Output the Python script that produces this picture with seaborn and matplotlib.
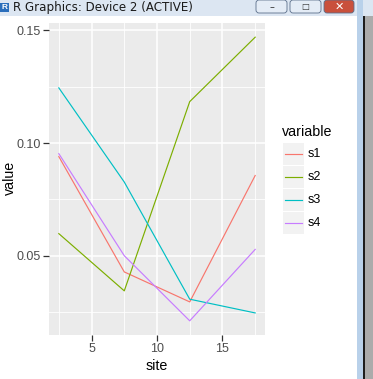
import numpy as np
import pandas as pd
import matplotlib
matplotlib.use("Agg")
import matplotlib.pyplot as plt
import seaborn as sns
from matplotlib.patches import Rectangle, FancyBboxPatch
from matplotlib.lines import Line2D
from matplotlib.ticker import MultipleLocator

# ---- data ----
site = [2.5, 7.5, 12.5, 17.5]
s1 = [0.094, 0.0428, 0.0295, 0.0856]
s2 = [0.0598, 0.0344, 0.1184, 0.147]
s3 = [0.1245, 0.0827, 0.0307, 0.0246]
s4 = [0.0953, 0.0500, 0.0211, 0.0528]
series_names = ["s1", "s2", "s3", "s4"]
colors = ["#F8766D", "#7CAE00", "#00BFC4", "#C77CFF"]
x_ticks = [5, 10, 15]
y_ticks = [0.05, 0.10, 0.15]
y_tick_labels = ["0.05", "0.10", "0.15"]
window_title = "R Graphics: Device 2 (ACTIVE)"

df = pd.DataFrame({"site": site, "s1": s1, "s2": s2, "s3": s3, "s4": s4})
long = df.melt(id_vars="site", var_name="variable", value_name="value")

plt.rcParams["font.family"] = ["Liberation Sans", "DejaVu Sans"]

W, H = 373, 379
fig = plt.figure(figsize=(W / 100, H / 100), dpi=100)
fig.patch.set_facecolor("white")

def fx(x):
    return x / W

def fy(y):
    return 1 - y / H

# ---- window chrome ----
fig.add_artist(Rectangle((0, fy(16)), 1, 16 / H, transform=fig.transFigure,
                         facecolor="#DCE6F2", edgecolor="none", zorder=0))
fig.add_artist(Rectangle((fx(357), 0), 6 / W, 1, transform=fig.transFigure,
                         facecolor="#B9D1EA", edgecolor="none", zorder=0))
fig.add_artist(Rectangle((fx(363), 0), 1.5 / W, fy(16), transform=fig.transFigure,
                         facecolor="#1E1E1E", edgecolor="none", zorder=0))
fig.add_artist(Rectangle((fx(364.5), 0), 9 / W, fy(16), transform=fig.transFigure,
                         facecolor="#ABABAB", edgecolor="none", zorder=0))
for (x0, x1, fc) in [(256, 287, "#E4ECF6"), (290, 321, "#E4ECF6"), (324, 354, "#C9503C")]:
    fig.add_artist(FancyBboxPatch((fx(x0), fy(13)), (x1 - x0) / W, 13 / H,
                                  boxstyle="round,pad=0,rounding_size=0.008",
                                  transform=fig.transFigure, facecolor=fc,
                                  edgecolor="#5A6E8A", linewidth=0.6, zorder=1))
fig.text(fx(271.5), fy(7), "\u2013", ha="center", va="center", fontsize=7, color="#333333",
         family="DejaVu Sans")
fig.text(fx(305.5), fy(7), "\u25a1", ha="center", va="center", fontsize=6, color="#333333",
         family="DejaVu Sans")
fig.text(fx(339), fy(7), "\u2715", ha="center", va="center", fontsize=8,
         color="white", fontweight="bold", family="DejaVu Sans")
fig.add_artist(Rectangle((0, fy(12)), 9 / W, 9 / H, transform=fig.transFigure,
                         facecolor="#2A6EBB", edgecolor="none", zorder=1))
fig.text(fx(4.5), fy(7.5), "R", ha="center", va="center", fontsize=6,
         color="white", fontweight="bold")
fig.text(fx(13), fy(7.5), window_title, ha="left", va="center", fontsize=8.6,
         color="#1A1A1A", family="DejaVu Sans")

# ---- plot panel ----
ax = fig.add_axes([fx(49), fy(335), (265 - 49) / W, (335 - 23) / H])
ax.set_facecolor("#EBEBEB")
sns.lineplot(data=long, x="site", y="value", hue="variable",
             palette=dict(zip(series_names, colors)), linewidth=0.85,
             legend=False, ax=ax, estimator=None, sort=False)

xmin, xmax = min(site), max(site)
ymin = min(min(s1), min(s2), min(s3), min(s4))
ymax = max(max(s1), max(s2), max(s3), max(s4))
xr, yr = xmax - xmin, ymax - ymin
ax.set_xlim(xmin - 0.05 * xr, xmax + 0.05 * xr)
ax.set_ylim(ymin - 0.05 * yr, ymax + 0.05 * yr)

ax.set_xticks(x_ticks)
ax.set_yticks(y_ticks)
ax.set_yticklabels(y_tick_labels)
ax.xaxis.set_minor_locator(MultipleLocator(2.5))
ax.yaxis.set_minor_locator(MultipleLocator(0.025))
ax.grid(which="major", color="white", linewidth=1.1)
ax.grid(which="minor", color="white", linewidth=0.6)
ax.set_axisbelow(True)
for sp in ax.spines.values():
    sp.set_visible(False)
ax.tick_params(which="major", length=4, width=0.9, color="#333333",
               labelcolor="#4D4D4D", labelsize=9, pad=2)
ax.tick_params(which="minor", length=0)
ax.set_xlabel("site", fontsize=10.3, color="black")
ax.set_ylabel("value", fontsize=10.3, color="black")
ax.xaxis.set_label_coords((157 - 49) / 216, -(366 - 335) / 312)
ax.yaxis.set_label_coords(-(49 - 10) / 216, (335 - 178) / 312)
ax.xaxis.label.set_va("center")
ax.yaxis.label.set_va("center")

# ---- legend (ggplot style) ----
fig.text(fx(282), fy(132), "variable", ha="left", va="center", fontsize=10.3, color="black")
key_top = 143
key_h = 23
for i, (name, col) in enumerate(zip(series_names, colors)):
    top = key_top + i * key_h
    fig.add_artist(Rectangle((fx(283), fy(top + key_h - 1)), 21 / W, (key_h - 1) / H,
                             transform=fig.transFigure, facecolor="#F2F2F2",
                             edgecolor="none"))
    yc = top + (key_h - 1) / 2
    fig.add_artist(Line2D([fx(285), fx(302)], [fy(yc), fy(yc)], transform=fig.transFigure,
                          color=col, linewidth=0.85))
    fig.text(fx(308), fy(yc), name, ha="left", va="center", fontsize=9, color="black")

fig.savefig("out.png", dpi=100)
